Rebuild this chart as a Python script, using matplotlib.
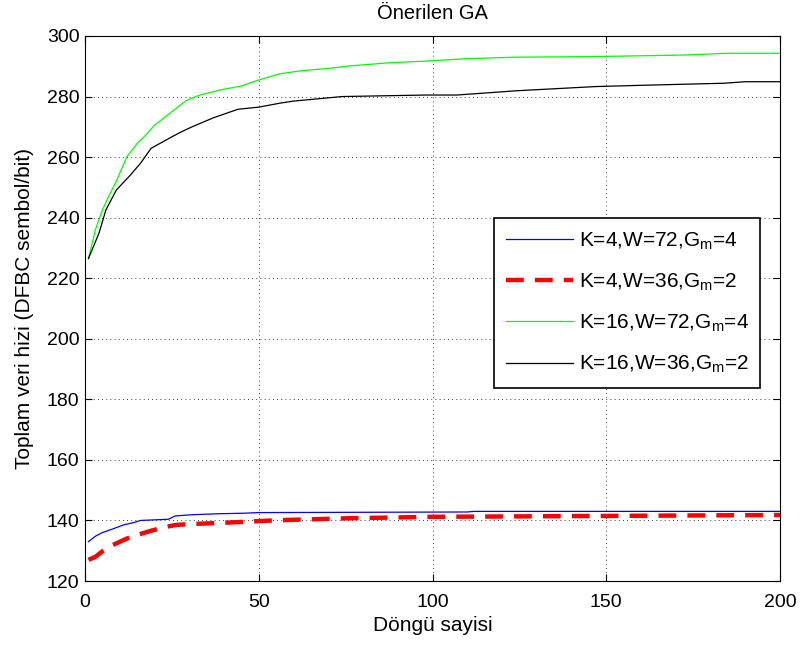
"""
Önerilen GA - toplam veri hizi / döngü sayisi
"""

import matplotlib
matplotlib.use('Agg')
import matplotlib.pyplot as plt

# K=4, W=72, Gm=4 (mavi)
x_blue = [1, 3, 5, 8, 11, 14, 16, 20, 24, 26, 31, 38, 46, 50, 80, 110, 112, 150, 200]
y_blue = [133.0, 134.8, 136.0, 137.2, 138.5, 139.3, 140.0, 140.2, 140.4, 141.5, 141.9,
          142.2, 142.4, 142.6, 142.7, 142.8, 143.0, 143.0, 143.0]

# K=4, W=36, Gm=2 (kirmizi, kesikli)
x_red = [1, 3, 5, 8, 12, 15, 19, 23, 26, 30, 37, 45, 52, 59, 75, 100, 150, 200]
y_red = [127.0, 128.0, 129.8, 131.9, 134.0, 135.2, 136.6, 137.8, 138.5, 138.8, 139.1,
         139.5, 139.9, 140.2, 140.7, 141.2, 141.5, 141.8]

# K=16, W=72, Gm=4 (yesil)
x_green = [1, 3, 5, 7, 9, 12, 15, 17, 20, 22, 25, 29, 33, 39, 45, 50, 56, 62, 70,
           76, 88, 98, 110, 124, 146, 172, 185, 200]
y_green = [226.5, 236.0, 242.5, 247.5, 252.0, 260.0, 264.5, 266.7, 270.5, 272.3, 275.0,
           278.6, 280.5, 282.2, 283.5, 285.5, 287.5, 288.5, 289.3, 290.1, 291.2, 291.7,
           292.5, 293.0, 293.2, 293.7, 294.3, 294.3]

# K=16, W=36, Gm=2 (siyah)
x_black = [1, 4, 6, 9, 13, 16, 19, 22, 25, 28, 31, 37, 44, 50, 56, 60, 74, 98, 107,
           124, 147, 163, 184, 190, 200]
y_black = [226.5, 234.8, 242.5, 249.1, 254.0, 258.0, 262.9, 264.8, 266.7, 268.5, 270.1,
           273.0, 275.8, 276.5, 277.8, 278.5, 280.0, 280.5, 280.5, 281.9, 283.3, 283.8,
           284.4, 284.9, 284.9]

labels = ['K=4,W=72,G$_m$=4', 'K=4,W=36,G$_m$=2',
          'K=16,W=72,G$_m$=4', 'K=16,W=36,G$_m$=2']

plt.rcParams['font.family'] = ['Liberation Sans', 'DejaVu Sans']
plt.rcParams['mathtext.fontset'] = 'custom'
plt.rcParams['mathtext.rm'] = 'Liberation Sans'
plt.rcParams['mathtext.it'] = 'Liberation Sans'

fig = plt.figure(figsize=(8, 6.45), dpi=100)
ax = fig.add_axes([0.10625, 0.0992, 0.86875, 0.845])

ax.plot(x_blue, y_blue, color='#0000ff', linewidth=0.9, label=labels[0])
ax.plot(x_red, y_red, color='#ff0000', linewidth=3.2, linestyle=(0, (4, 2.5)), label=labels[1])
ax.plot(x_green, y_green, color='#00ff00', linewidth=0.9, label=labels[2])
ax.plot(x_black, y_black, color='black', linewidth=0.9, label=labels[3])

ax.set_xlim(0, 200)
ax.set_ylim(120, 300)
ax.set_xticks([0, 50, 100, 150, 200])
ax.set_yticks(range(120, 301, 20))
ax.tick_params(direction='in', labelsize=14, length=5, top=True, right=True)
ax.tick_params(axis='x', pad=9)
ax.tick_params(axis='y', pad=4)
ax.grid(True, color='black', linestyle=(0, (1, 4)), linewidth=0.6)
for s in ax.spines.values():
    s.set_linewidth(0.8)

ax.set_title('Önerilen GA', fontsize=14.5, pad=12)
ax.set_xlabel('Döngü sayisi', fontsize=15, labelpad=4)
ax.set_ylabel('Toplam veri hizi (DFBC sembol/bit)', fontsize=15, labelpad=9)

leg = ax.legend(loc='upper left', bbox_to_anchor=(0.588, 0.666, 0.383, 0.0), mode='expand',
                borderaxespad=0, fontsize=15, fancybox=False, framealpha=1, edgecolor='black',
                handlelength=3.2, handletextpad=0.3, labelspacing=0.95, borderpad=0.6)
leg.get_frame().set_linewidth(1.2)

fig.savefig('out.png', dpi=100)
